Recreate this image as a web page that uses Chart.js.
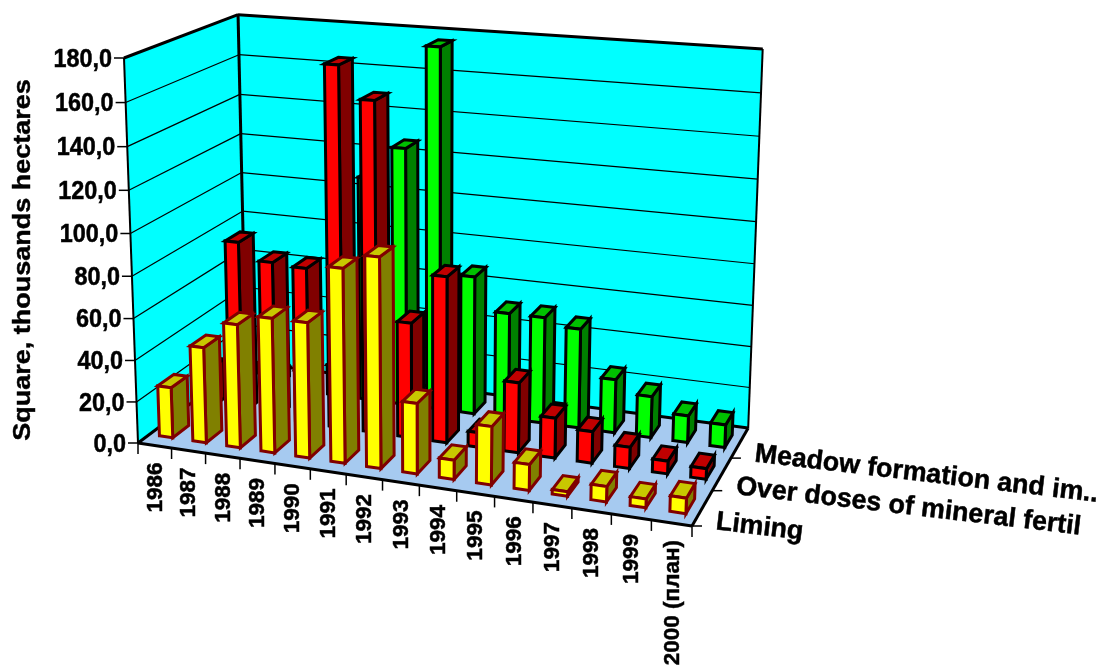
<!DOCTYPE html>
<html>
<head>
<meta charset="utf-8">
<title>Square, thousands hectares</title>
<script src="https://cdn.jsdelivr.net/npm/chart.js@4/dist/chart.umd.min.js"></script>
<style>
  html, body { margin: 0; padding: 0; background: #fff; overflow: hidden; }
</style>
</head>
<body>
<canvas id="areaChart" width="1100" height="666"></canvas>
<script>
const years = ["1986", "1987", "1988", "1989", "1990", "1991", "1992", "1993", "1994", "1995", "1996", "1997", "1998", "1999", "2000 (план)"];
const seriesNames = ["Liming", "Over doses of mineral fertil", "Meadow formation and im.."];
const limingValues = [24.5, 46, 59, 64, 64, 91, 98, 33, 9, 27, 12, 2, 7, 4, 7];
const overdoseValues = [20, 85, 77, 76, 173, 158, 55.5, 79.5, 7, 33.5, 19, 15, 10, 6, 5];
const meadowValues = [5, 5, 10, 15, 111, 127, 176.5, 68, 52, 52, 48.5, 26, 20, 13, 11];

const FONT = '"Liberation Sans", Arial, sans-serif';

// box corners on screen, the rest of the box follows from the perspective weights
const origin = [138, 443];
const xEnd = [692, 526];
const depthEnd = [246, 362];
const valueEnd = [124, 58];
const xWeight = 0.903;
const depthWeight = 1.114;
const valueWeight = 0.955;

const barDepth = 0.42;

const barStyles = [
  { front: "#FFFF00", top: "#C8C800", side: "#808000", edge: "#800000" },
  { front: "#FF0000", top: "#C00000", side: "#800000", edge: "#000000" },
  { front: "#00FF00", top: "#00C000", side: "#008000", edge: "#000000" },
];

// u along the years, w into the depth, t up the value axis (all 0..1)
function project(u, w, t) {
  const d = 1 + u * (xWeight - 1) + w * (depthWeight - 1) + t * (valueWeight - 1);
  const at = (k) =>
    origin[k] +
    u * (xWeight * xEnd[k] - origin[k]) +
    w * (depthWeight * depthEnd[k] - origin[k]) +
    t * (valueWeight * valueEnd[k] - origin[k]);
  return [at(0) / d, at(1) / d];
}

function face(ctx, points, fill, edge, width) {
  ctx.beginPath();
  points.forEach((p, i) => (i ? ctx.lineTo(p[0], p[1]) : ctx.moveTo(p[0], p[1])));
  ctx.closePath();
  if (fill) {
    ctx.fillStyle = fill;
    ctx.fill();
  }
  if (edge) {
    ctx.strokeStyle = edge;
    ctx.lineWidth = width;
    ctx.lineJoin = "miter";
    ctx.stroke();
  }
}

function line(ctx, a, b, width) {
  ctx.beginPath();
  ctx.moveTo(a[0], a[1]);
  ctx.lineTo(b[0], b[1]);
  ctx.strokeStyle = "#000";
  ctx.lineWidth = width;
  ctx.stroke();
}

// sx, sy squeeze the glyphs along and across the reading direction
function label(ctx, text, x, y, size, angle, align, sx = 1, sy = 1) {
  ctx.save();
  ctx.translate(x, y);
  ctx.rotate(angle);
  ctx.scale(sx, sy);
  ctx.font = "bold " + size + "px " + FONT;
  ctx.fillStyle = "#000";
  ctx.strokeStyle = "#000";
  ctx.lineWidth = 0.5;
  ctx.textAlign = align;
  ctx.textBaseline = "middle";
  ctx.fillText(text, 0, 0);
  ctx.strokeText(text, 0, 0);
  ctx.restore();
}

const box3d = {
  id: "box3d",
  beforeDatasetsDraw(chart) {
    const ctx = chart.ctx;
    const area = chart.chartArea;
    const xScale = chart.scales.x;
    const yScale = chart.scales.y;
    const zScale = chart.scales.z;
    const toU = (px) => (px - area.left) / area.width;
    const toW = (px) => (px - area.left) / area.width;
    const toT = (py) => (area.bottom - py) / area.height;

    // walls and floor
    face(ctx, [project(0, 0, 0), project(0, 1, 0), project(0, 1, 1), project(0, 0, 1)], "#00FFFF");
    face(ctx, [project(0, 1, 0), project(1, 1, 0), project(1, 1, 1), project(0, 1, 1)], "#00FFFF");
    face(ctx, [project(0, 0, 0), project(1, 0, 0), project(1, 1, 0), project(0, 1, 0)], "#A6CAF0");

    // gridlines and value labels
    yScale.ticks.forEach((tick) => {
      const t = toT(yScale.getPixelForValue(tick.value));
      const front = project(0, 0, t);
      if (tick.value > 0) {
        line(ctx, front, project(0, 1, t), 1.2);
        line(ctx, project(0, 1, t), project(1, 1, t), 1.2);
      }
      line(ctx, [front[0] - 10, front[1]], front, 1.5);
      label(ctx, tick.value.toFixed(1).replace(".", ","), front[0] - 12, front[1] + 1.5, 26, 0, "right", 0.9);
    });

    // box outline
    line(ctx, project(0, 0, 0), project(0, 0, 1), 2);
    line(ctx, project(0, 0, 1), project(0, 1, 1), 3);
    line(ctx, project(0, 1, 0), project(0, 1, 1), 3);
    line(ctx, project(0, 1, 1), project(1, 1, 1), 3);
    line(ctx, project(1, 1, 0), project(1, 1, 1), 2);
    line(ctx, project(0, 0, 0), project(1, 0, 0), 3);
    line(ctx, project(1, 0, 0), project(1, 1, 0), 3);
    line(ctx, project(0, 1, 0), project(1, 1, 0), 3);
    line(ctx, project(0, 0, 0), project(0, 1, 0), 3);

    // year ticks on slot edges, labels under slot centres
    years.forEach((name, i) => {
      const edge = project(toU(xScale.getPixelForValue(i - 0.5)), 0, 0);
      line(ctx, edge, [edge[0], edge[1] + 11], 1.5);
      const mid = project(toU(xScale.getPixelForValue(i)), 0, 0);
      label(ctx, name, mid[0] + 1, mid[1] + 17, 22.5, -Math.PI / 2, "right", 1, 0.95);
    });
    const lastEdge = project(1, 0, 0);
    line(ctx, lastEdge, [lastEdge[0], lastEdge[1] + 11], 1.5);

    // depth ticks and series names
    seriesNames.forEach((name, i) => {
      const edge = project(1, toW(zScale.getPixelForValue(i - 0.5)), 0);
      line(ctx, edge, [edge[0] + 10, edge[1]], 1.5);
      label(ctx, name, edge[0] + 24, edge[1] - 4, 26.8, 0.117, "left");
    });

    // rear series first so the nearer bars cover them
    for (let s = seriesNames.length - 1; s >= 0; s--) {
      const style = barStyles[s];
      const wMid = toW(zScale.getPixelForValue(s));
      const wHalf = (barDepth * (toW(zScale.getPixelForValue(1)) - toW(zScale.getPixelForValue(0)))) / 2;
      const w0 = wMid - wHalf;
      const w1 = wMid + wHalf;
      chart.getDatasetMeta(s).data.forEach((bar) => {
        const u0 = toU(bar.x - bar.width / 2);
        const u1 = toU(bar.x + bar.width / 2);
        const t1 = toT(bar.y);
        face(ctx, [project(u1, w0, 0), project(u1, w1, 0), project(u1, w1, t1), project(u1, w0, t1)], style.side, style.edge, 3);
        face(ctx, [project(u0, w0, t1), project(u1, w0, t1), project(u1, w1, t1), project(u0, w1, t1)], style.top, style.edge, 3);
        face(ctx, [project(u0, w0, 0), project(u1, w0, 0), project(u1, w0, t1), project(u0, w0, t1)], style.front, style.edge, 3);
      });
    }

    label(ctx, "Square, thousands hectares", 24, 260, 27, -Math.PI / 2, "center", 1, 0.87);

    // the bars are all drawn above
    return false;
  },
};

new Chart(document.getElementById("areaChart"), {
  type: "bar",
  data: {
    labels: years,
    datasets: [
      { label: seriesNames[0], data: limingValues },
      { label: seriesNames[1], data: overdoseValues },
      { label: seriesNames[2], data: meadowValues },
    ],
  },
  options: {
    responsive: false,
    animation: false,
    grouped: false,
    barPercentage: 0.4,
    categoryPercentage: 1,
    layout: { padding: 0 },
    plugins: { legend: { display: false }, tooltip: { enabled: false } },
    scales: {
      x: { display: false, offset: true },
      y: { display: false, min: 0, max: 180, ticks: { stepSize: 20 } },
      z: { type: "category", axis: "x", position: "bottom", labels: seriesNames, display: false, offset: true },
    },
  },
  plugins: [box3d],
});
</script>
</body>
</html>
